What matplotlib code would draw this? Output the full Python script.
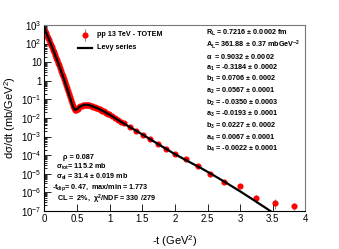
import numpy as np
import matplotlib
matplotlib.use('Agg')
import matplotlib.pyplot as plt
from matplotlib.ticker import FixedLocator, FuncFormatter, LogLocator, NullFormatter

plt.rcParams['font.family'] = ['Liberation Sans', 'DejaVu Sans']
plt.rcParams['mathtext.fontset'] = 'custom'
plt.rcParams['mathtext.rm'] = 'Liberation Sans'
plt.rcParams['mathtext.it'] = 'Liberation Sans'
plt.rcParams['mathtext.bf'] = 'Liberation Sans:bold'
plt.rcParams['mathtext.default'] = 'regular'

# TOTEM data, -t (GeV^2) and log10(dsigma/dt)
t_data = [0.015, 0.030, 0.045, 0.060, 0.075, 0.090, 0.105, 0.120, 0.135, 0.150,
          0.165, 0.180, 0.195, 0.210, 0.225, 0.240, 0.255, 0.270, 0.285, 0.300,
          0.315, 0.330, 0.345, 0.360, 0.375, 0.390, 0.405, 0.420, 0.435, 0.450,
          0.465, 0.480, 0.495, 0.51, 0.53, 0.55, 0.57, 0.59, 0.61, 0.63,
          0.65, 0.67, 0.69, 0.71, 0.73, 0.75, 0.77, 0.79, 0.81, 0.83,
          0.85, 0.87, 0.89, 0.91, 0.93, 0.95, 0.97, 0.99, 1.03, 1.08,
          1.13, 1.17, 1.22, 1.31, 1.41, 1.51, 1.62, 1.74, 1.86, 2.00,
          2.17, 2.35, 2.54, 2.75, 2.99, 3.24, 3.53, 3.83]
log_data = [2.69, 2.56, 2.43, 2.31, 2.18, 2.05, 1.92, 1.79, 1.66, 1.52,
            1.38, 1.24, 1.10, 0.96, 0.82, 0.67, 0.53, 0.38, 0.23, 0.08,
            -0.08, -0.24, -0.40, -0.56, -0.73, -0.90, -1.06, -1.22, -1.37, -1.48,
            -1.55, -1.56, -1.53, -1.50, -1.43, -1.38, -1.34, -1.31, -1.30, -1.29,
            -1.29, -1.30, -1.32, -1.34, -1.36, -1.39, -1.42, -1.45, -1.48, -1.51,
            -1.54, -1.58, -1.61, -1.65, -1.69, -1.73, -1.77, -1.81, -1.89, -1.99,
            -2.11, -2.21, -2.30, -2.50, -2.70, -2.91, -3.15, -3.40, -3.67, -3.95,
            -4.22, -4.57, -5.01, -5.42, -5.66, -6.30, -6.57, -6.73]
# relative errors of the last points (the rest are too small to see)
tail_err = [0.05, 0.06, 0.08, 0.1, 0.15, 0.2, 0.45, 0.55, 0.4]

# Levy series fit
t_fit = [0.0, 0.05, 0.10, 0.15, 0.20, 0.25, 0.30, 0.35, 0.40, 0.43,
         0.45, 0.47, 0.50, 0.55, 0.60, 0.65, 0.70, 0.80, 0.90, 1.00,
         1.20, 1.40, 1.60, 1.80, 2.00, 2.20, 2.40, 2.60, 2.80, 3.00,
         3.20, 3.40, 3.50]
log_fit = [2.82, 2.39, 1.96, 1.52, 1.06, 0.57, 0.08, -0.45, -1.00, -1.32,
           -1.48, -1.57, -1.52, -1.38, -1.31, -1.29, -1.33, -1.46, -1.63, -1.83,
           -2.27, -2.68, -3.10, -3.53, -3.95, -4.33, -4.70, -5.10, -5.52, -5.95,
           -6.40, -6.86, -7.10]

par_lines = [
    r'R$_{L}$ = 0.7216 $\pm$ 0.0002 fm',
    r'A$_{L}$= 361.88 $\pm$ 0.37 mbGeV$^{-2}$',
    r'α  = 0.9032 $\pm$ 0.0002',
    r'a$_{1}$ = -0.3184 $\pm$ 0.0002',
    r'b$_{1}$ = 0.0706 $\pm$ 0.0002',
    r'a$_{2}$ = 0.0567 $\pm$ 0.0001',
    r'b$_{2}$ = -0.0350 $\pm$ 0.0003',
    r'a$_{3}$ = -0.0193 $\pm$ 0.0001',
    r'b$_{3}$ = 0.0227 $\pm$ 0.0002',
    r'a$_{4}$ = 0.0067 $\pm$ 0.0001',
    r'b$_{4}$ = -0.0022 $\pm$ 0.0001',
]
info_lines = [
    (63, 157.7, r'ρ = 0.087'),
    (56, 167.3, r'σ$_{tot}$= 115.2 mb'),
    (56, 177.3, r'σ$_{el}$ = 31.4 $\pm$ 0.019 mb'),
    (52, 187.7, r'-t$_{dip}$= 0.47,  max/min = 1.773'),
    (57, 199.0, r'CL =  2%,  χ$^{2}$/NDF = 330 /279'),
]

y_data = 10 ** np.array(log_data)
rel_err = np.zeros(len(t_data))
rel_err[-len(tail_err):] = tail_err
y_err = y_data * rel_err
y_fit = 10 ** np.array(log_fit)

fig = plt.figure(figsize=(3.39, 2.49), dpi=100)
ax = fig.add_axes([0.131, 0.153, 0.770, 0.747])

ax.errorbar(t_data, y_data, yerr=y_err, fmt='o', color='red', ms=3.4,
            ecolor='#888888', elinewidth=0.8, capsize=0, zorder=2)
ax.plot(t_fit, y_fit, color='black', lw=1.6, zorder=3)

ax.set_yscale('log')
ax.set_xlim(0, 4)
ax.set_ylim(1e-7, 1e3)

def yfmt(v, pos):
    e = int(round(np.log10(v)))
    if e == 0:
        return '1'
    if e == 1:
        return '10'
    return r'10$^{%d}$' % e

ax.yaxis.set_major_locator(FixedLocator([10.0 ** k for k in range(-7, 4)]))
ax.yaxis.set_major_formatter(FuncFormatter(yfmt))
ax.yaxis.set_minor_locator(LogLocator(base=10, subs=np.arange(2, 10), numticks=20))
ax.yaxis.set_minor_formatter(NullFormatter())
ax.set_xticks([0, 0.5, 1, 1.5, 2, 2.5, 3, 3.5, 4])
ax.set_xticklabels(['0', '0.5', '1', '1.5', '2', '2.5', '3', '3.5', '4'])

ax.tick_params(which='both', direction='in', labelsize=7, pad=2, width=0.6)
ax.tick_params(which='major', length=5)
ax.tick_params(which='minor', length=2.5)
for s in ['top', 'right']:
    ax.spines[s].set_color('#777777')
    ax.spines[s].set_linewidth(0.8)

ax.set_xlabel('-t (GeV$^{2}$)', fontsize=8, labelpad=7)
ax.set_ylabel('dσ/dt (mb/GeV$^{2}$)', fontsize=8, labelpad=2)

# legend drawn by hand
leg_y1 = 10 ** 2.46
ax.errorbar([0.62], [leg_y1], yerr=[[leg_y1 * 0.5], [leg_y1 * 1.0]],
            fmt='o', color='red', ms=3.4, ecolor='#888888', elinewidth=0.8)
ax.plot([0.51, 0.73], [10 ** 1.76] * 2, color='black', lw=1.6)
ax.text(0.81, leg_y1, 'pp 13 TeV - TOTEM', fontsize=5.2, fontweight='bold',
        va='center')
ax.text(0.81, 10 ** 1.76, 'Levy series', fontsize=5.2, fontweight='bold',
        va='center')

for i, s in enumerate(par_lines):
    fig.text(206 / 339, 1 - (32.7 + 11.66 * i) / 249, s, fontsize=5.2,
             fontweight='bold', va='center')

for x, y, s in info_lines:
    fig.text(x / 339, 1 - y / 249, s, fontsize=5.2, fontweight='bold', va='center')

fig.savefig('out.png', dpi=100)
